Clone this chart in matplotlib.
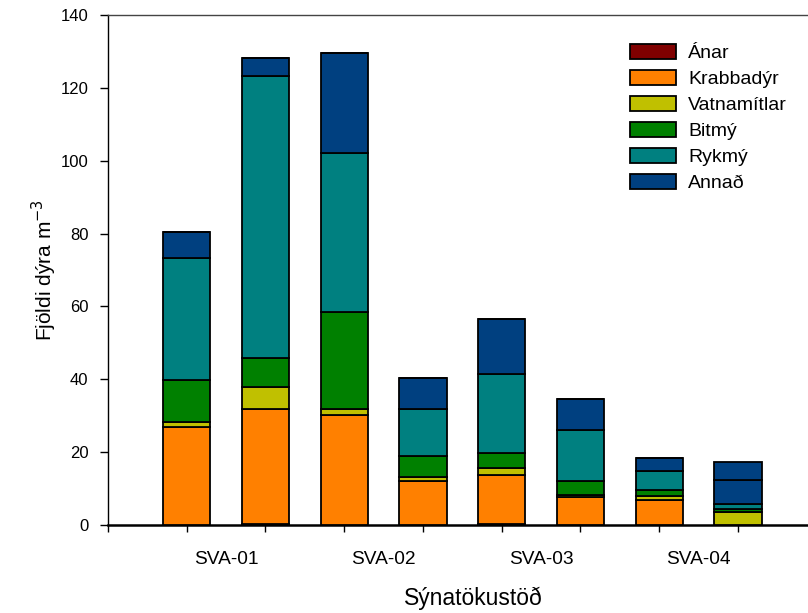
import matplotlib
matplotlib.use("Agg")
import matplotlib.pyplot as plt
import numpy as np

plt.rcParams['font.family'] = ['Liberation Sans', 'DejaVu Sans']

positions = [1, 2, 3, 4, 5, 6, 7, 8]
station_labels = ["SVA-01", "SVA-02", "SVA-03", "SVA-04"]
station_pos = [1.5, 3.5, 5.5, 7.5]

series_names = ["Ánar", "Krabbadýr", "Vatnamítlar", "Bitmý", "Rykmý", "Annað"]
anar        = [0.0, 0.4, 0.0, 0.0, 0.2, 0.0, 0.0, 0.0]
krabbadyr   = [27.0, 31.4, 30.2, 12.1, 13.4, 7.8, 6.9, 0.0]
vatnamitlar = [1.4, 6.2, 1.6, 1.1, 2.1, 0.4, 1.1, 3.5]
bitmy       = [11.4, 7.9, 26.8, 5.7, 4.0, 3.9, 1.6, 0.9]
rykmy       = [33.6, 77.4, 43.5, 12.9, 21.7, 14.0, 5.3, 1.4]
annad       = [6.9, 5.0, 27.4, 8.5, 15.2, 8.5, 3.4, 6.6]
annad_extra = [0.0, 0.0, 0.0, 0.0, 0.0, 0.0, 0.0, 4.8]

colors = ["#800000", "#ff8000", "#c0c000", "#008000", "#008080", "#004080"]

yticks = [0, 20, 40, 60, 80, 100, 120, 140]

W, H = 808, 613
fig = plt.figure(figsize=(W / 100, H / 100), dpi=100)
unit = 78.76
x0 = 107.9
ax = fig.add_axes([x0 / W, 1 - 525 / H, 700 / W, (525 - 15) / H])

data = [anar, krabbadyr, vatnamitlar, bitmy, rykmy, annad]
bottom = np.zeros(len(positions))
for name, vals, c in zip(series_names, data, colors):
    ax.bar(positions, vals, width=0.6, bottom=bottom, color=c,
           edgecolor="black", linewidth=1.3, label=name, zorder=3)
    bottom += np.array(vals)
ax.bar(positions, annad_extra, width=0.6, bottom=bottom, color=colors[5],
       edgecolor="black", linewidth=1.3, zorder=3)

ax.set_xlim(0, 700 / unit)
ax.set_ylim(0, 140)
ax.set_yticks(yticks)
ax.tick_params(axis='y', direction='out', length=6, width=1, labelsize=12, pad=8)
ax.set_xticks(range(0, 9))
ax.set_xticklabels([""] * 9)
ax.tick_params(axis='x', which='major', direction='out', length=5, width=1)
ax.set_xticks(station_pos, minor=True)
ax.set_xticklabels(station_labels, minor=True)
ax.tick_params(axis='x', which='minor', length=0, labelsize=13.8, pad=18.5)

ax.spines['right'].set_visible(False)
ax.spines['top'].set_color('#444444')
ax.spines['top'].set_linewidth(1.0)
ax.spines['left'].set_linewidth(1.0)
ax.spines['bottom'].set_linewidth(1.8)

ax.set_ylabel("Fjöldi dýra m$^{-3}$", fontsize=15, labelpad=1)
ax.set_xlabel("Sýnatökustöð", fontsize=16.5)
ax.xaxis.set_label_coords((473 - x0) / 700, -(587 - 525) / 510)

leg = ax.legend(loc='upper left', bbox_to_anchor=(622 / W, 1 - 36 / H),
                bbox_transform=fig.transFigure, frameon=False, fontsize=14,
                handlelength=2.4, handleheight=0.8, handletextpad=0.6,
                labelspacing=0.4, borderaxespad=0)
for p in leg.get_patches():
    p.set_linewidth(1.3)

fig.savefig("out.png", dpi=100)
